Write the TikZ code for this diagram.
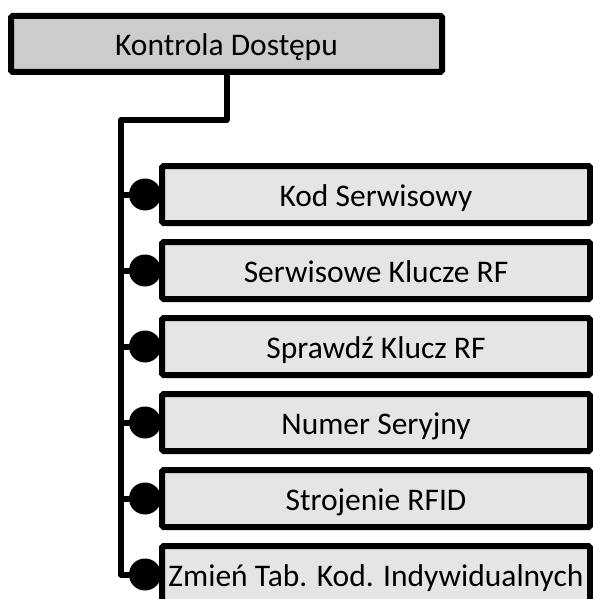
\documentclass[tikz,border=0pt]{standalone}
\usepackage{fontspec}
\setmainfont{Carlito}
\definecolor{topfill}{HTML}{CCCCCC}
\definecolor{subfill}{HTML}{E5E5E5}
\begin{document}
\begin{tikzpicture}[x=1pt,y=-1pt,
  basebox/.style={draw=black, line width=6pt, rounded corners=1.5pt, inner sep=0pt,
    text height=24pt, text depth=0pt,
    font=\fontsize{31.5}{36}\selectfont, text=black},
  topbox/.style={basebox, fill=topfill, minimum width=431pt, minimum height=56pt},
  subbox/.style={basebox, fill=subfill, minimum width=428pt, minimum height=57pt},
  dot/.style={circle, fill=black, draw=none, minimum size=32pt, inner sep=0pt},
  link/.style={draw=black, line width=6pt, line join=round}]
\useasboundingbox (0,0) rectangle (593,599);
\clip (0,0) rectangle (593,599);
\node[topbox] (top) at (226.5,44) {Kontrola Dostępu};
\node[subbox] (b1) at (376,194.5) {Kod Serwisowy};
\node[subbox] (b2) at (376,270.5) {Serwisowe Klucze RF};
\node[subbox] (b3) at (376,346.5) {Sprawdź Klucz RF};
\node[subbox] (b4) at (376,422.5) {Numer Seryjny};
\node[subbox] (b5) at (376,498.5) {Strojenie RFID};
\node[subbox] (b6) at (376,574.5) {Zmień Tab. Kod. Indywidualnych};
\foreach \i in {1,...,6} {
  \node[dot] (d\i) at (145,{118.5+76*\i}) {};
}
\coordinate (j) at (121,120);
\draw[link] (top.south) |- (j) |- (d6);
\foreach \i in {1,...,5} {
  \draw[link] (j |- d\i) -- (d\i);
}
\end{tikzpicture}
\end{document}
